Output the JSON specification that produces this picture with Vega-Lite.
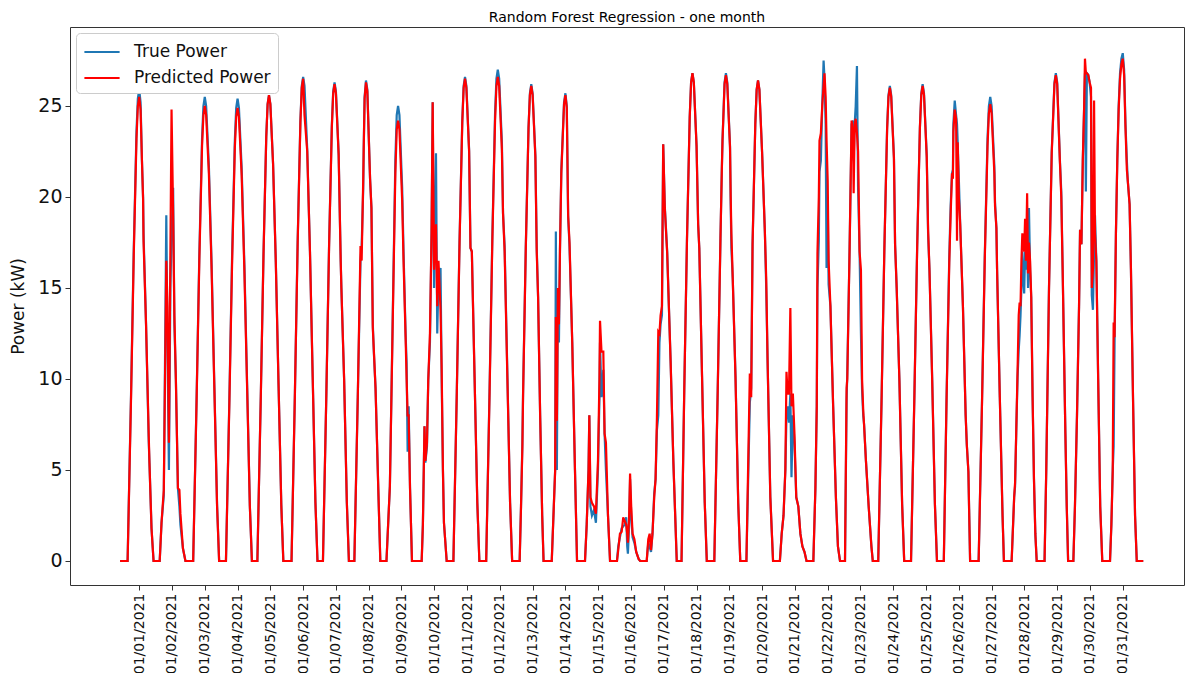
{
"$schema":"https://vega.github.io/schema/vega-lite/v6.json",
"width":1114,"height":558,
"autosize":{"type":"none"},
"padding":{"left":70,"top":27,"right":6,"bottom":88},
"background":"white",
"title":{"text":"Random Forest Regression - one month","fontSize":14,"fontWeight":"normal","font":"DejaVu Sans","color":"#000","offset":2},
"config":{"view":{"stroke":"#333","strokeWidth":1},"font":"DejaVu Sans"},
"data":{"values":[
{"t":"2021-01-01T00:00","a":0,"p":0},{"t":"2021-01-01T05:30","a":0,"p":0},{"t":"2021-01-01T08:00","a":9.1,"p":8.9},{"t":"2021-01-01T10:00","a":17.1,"p":16.8},{"t":"2021-01-01T12:00","a":23.6,"p":23.2},{"t":"2021-01-01T13:00","a":25.4,"p":25.0},{"t":"2021-01-01T14:00","a":25.9,"p":25.5},{"t":"2021-01-01T15:00","a":25.2,"p":24.8},{"t":"2021-01-01T16:00","a":22.0,"p":22.0},{"t":"2021-01-01T16:50","a":20.0,"p":19.9},{"t":"2021-01-01T17:10","a":18.0,"p":17.6},{"t":"2021-01-01T19:00","a":13.0,"p":13.0},{"t":"2021-01-01T21:00","a":6.5,"p":6.8},{"t":"2021-01-01T21:30","a":5.4,"p":5.4},{"t":"2021-01-01T23:00","a":1.8,"p":1.8},{"t":"2021-01-02T00:30","a":0,"p":0},
{"t":"2021-01-02T05:00","a":0,"p":0},{"t":"2021-01-02T06:20","a":2.1,"p":2.1},{"t":"2021-01-02T08:00","a":3.6,"p":3.9},{"t":"2021-01-02T09:50","a":19.0,"p":16.5},{"t":"2021-01-02T10:40","a":12.0,"p":14.0},{"t":"2021-01-02T11:45","a":5.0,"p":6.5},{"t":"2021-01-02T12:50","a":15.0,"p":17.0},{"t":"2021-01-02T13:40","a":18.0,"p":24.8},{"t":"2021-01-02T14:50","a":20.5,"p":19.0},{"t":"2021-01-02T15:45","a":13.0,"p":13.5},{"t":"2021-01-02T16:50","a":10.0,"p":10.0},{"t":"2021-01-02T18:20","a":4.0,"p":4.0},{"t":"2021-01-02T19:25","a":3.0,"p":3.9},{"t":"2021-01-02T20:10","a":2.0,"p":2.6},{"t":"2021-01-02T22:00","a":0.7,"p":0.7},{"t":"2021-01-02T23:50","a":0,"p":0},
{"t":"2021-01-03T05:30","a":0,"p":0},{"t":"2021-01-03T08:00","a":8.9,"p":8.8},{"t":"2021-01-03T10:00","a":16.8,"p":16.5},{"t":"2021-01-03T12:00","a":23.2,"p":22.8},{"t":"2021-01-03T13:00","a":25.0,"p":24.5},{"t":"2021-01-03T14:00","a":25.5,"p":25.0},{"t":"2021-01-03T15:00","a":25.0,"p":24.5},{"t":"2021-01-03T17:00","a":21.7,"p":21.3},{"t":"2021-01-03T19:00","a":16.3,"p":16.0},{"t":"2021-01-03T21:00","a":9.7,"p":9.5},{"t":"2021-01-03T23:00","a":3.1,"p":3.0},{"t":"2021-01-04T00:30","a":0,"p":0},
{"t":"2021-01-04T05:30","a":0,"p":0},{"t":"2021-01-04T08:00","a":8.9,"p":8.7},{"t":"2021-01-04T10:00","a":16.8,"p":16.4},{"t":"2021-01-04T12:00","a":23.1,"p":22.7},{"t":"2021-01-04T13:00","a":24.9,"p":24.4},{"t":"2021-01-04T14:00","a":25.4,"p":24.9},{"t":"2021-01-04T15:00","a":24.9,"p":24.4},{"t":"2021-01-04T17:00","a":21.6,"p":21.2},{"t":"2021-01-04T19:00","a":16.3,"p":15.9},{"t":"2021-01-04T21:00","a":9.7,"p":9.5},{"t":"2021-01-04T23:00","a":3.0,"p":3.0},{"t":"2021-01-05T00:30","a":0,"p":0},
{"t":"2021-01-05T04:30","a":0,"p":0},{"t":"2021-01-05T07:00","a":9.0,"p":9.0},{"t":"2021-01-05T09:00","a":16.9,"p":16.9},{"t":"2021-01-05T11:00","a":23.3,"p":23.3},{"t":"2021-01-05T12:00","a":25.1,"p":25.1},{"t":"2021-01-05T13:00","a":25.6,"p":25.6},{"t":"2021-01-05T14:00","a":25.1,"p":25.1},{"t":"2021-01-05T16:00","a":21.8,"p":21.8},{"t":"2021-01-05T18:00","a":16.4,"p":16.4},{"t":"2021-01-05T20:00","a":9.7,"p":9.7},{"t":"2021-01-05T22:00","a":3.1,"p":3.1},{"t":"2021-01-05T23:30","a":0,"p":0},
{"t":"2021-01-06T05:30","a":0,"p":0},{"t":"2021-01-06T08:00","a":9.3,"p":9.3},{"t":"2021-01-06T10:00","a":17.6,"p":17.5},{"t":"2021-01-06T12:00","a":24.2,"p":24.1},{"t":"2021-01-06T13:00","a":26.1,"p":26.0},{"t":"2021-01-06T14:00","a":26.6,"p":26.5},{"t":"2021-01-06T15:00","a":26.1,"p":24.5},{"t":"2021-01-06T17:00","a":22.6,"p":22.5},{"t":"2021-01-06T19:00","a":17.0,"p":17.0},{"t":"2021-01-06T21:00","a":10.1,"p":10.1},{"t":"2021-01-06T23:00","a":3.2,"p":3.2},{"t":"2021-01-07T00:30","a":0,"p":0},
{"t":"2021-01-07T04:30","a":0,"p":0},{"t":"2021-01-07T07:00","a":9.2,"p":9.2},{"t":"2021-01-07T09:00","a":17.4,"p":17.3},{"t":"2021-01-07T11:00","a":23.9,"p":23.8},{"t":"2021-01-07T12:00","a":25.8,"p":25.7},{"t":"2021-01-07T13:00","a":26.3,"p":26.2},{"t":"2021-01-07T14:00","a":25.8,"p":25.7},{"t":"2021-01-07T16:00","a":22.4,"p":22.3},{"t":"2021-01-07T17:30","a":16.5,"p":16.5},{"t":"2021-01-07T18:00","a":15.0,"p":15.0},{"t":"2021-01-07T20:00","a":10.0,"p":10.0},{"t":"2021-01-07T22:00","a":3.2,"p":3.2},{"t":"2021-01-07T23:30","a":0,"p":0},
{"t":"2021-01-08T03:30","a":0,"p":0},{"t":"2021-01-08T06:00","a":9.0,"p":9.0},{"t":"2021-01-08T08:00","a":16.5,"p":17.3},{"t":"2021-01-08T08:50","a":17.3,"p":16.5},{"t":"2021-01-08T10:00","a":20.5,"p":21.0},{"t":"2021-01-08T10:20","a":22.6,"p":22.6},{"t":"2021-01-08T11:00","a":25.5,"p":25.4},{"t":"2021-01-08T12:00","a":26.4,"p":26.3},{"t":"2021-01-08T13:00","a":25.9,"p":25.8},{"t":"2021-01-08T15:00","a":21.0,"p":21.0},{"t":"2021-01-08T16:00","a":19.4,"p":19.4},{"t":"2021-01-08T17:00","a":13.0,"p":12.8},{"t":"2021-01-08T17:45","a":11.5,"p":11.6},{"t":"2021-01-08T19:00","a":9.5,"p":9.5},{"t":"2021-01-08T21:00","a":4.0,"p":4.0},{"t":"2021-01-08T22:30","a":0,"p":0},
{"t":"2021-01-09T03:00","a":0,"p":0},{"t":"2021-01-09T05:30","a":4.1,"p":4.1},{"t":"2021-01-09T07:30","a":13.0,"p":12.8},{"t":"2021-01-09T09:30","a":22.0,"p":21.3},{"t":"2021-01-09T10:30","a":24.5,"p":23.7},{"t":"2021-01-09T11:30","a":25.0,"p":24.2},{"t":"2021-01-09T12:30","a":24.5,"p":23.7},{"t":"2021-01-09T14:30","a":20.5,"p":19.8},{"t":"2021-01-09T15:30","a":17.0,"p":16.5},{"t":"2021-01-09T17:00","a":12.5,"p":12.3},{"t":"2021-01-09T17:45","a":10.9,"p":10.0},{"t":"2021-01-09T18:30","a":6.0,"p":8.0},{"t":"2021-01-09T19:15","a":8.5,"p":8.0},{"t":"2021-01-09T20:15","a":4.0,"p":4.0},{"t":"2021-01-09T21:40","a":0,"p":0},
{"t":"2021-01-10T04:47","a":0,"p":0},{"t":"2021-01-10T05:40","a":2.0,"p":2.0},{"t":"2021-01-10T06:50","a":7.4,"p":7.4},{"t":"2021-01-10T07:30","a":5.4,"p":5.5},{"t":"2021-01-10T08:40","a":6.3,"p":6.5},{"t":"2021-01-10T09:35","a":9.9,"p":9.9},{"t":"2021-01-10T10:50","a":12.0,"p":12.5},{"t":"2021-01-10T12:00","a":18.0,"p":18.0},{"t":"2021-01-10T12:50","a":25.2,"p":25.2},{"t":"2021-01-10T13:50","a":15.0,"p":16.0},{"t":"2021-01-10T15:15","a":22.4,"p":18.5},{"t":"2021-01-10T16:10","a":12.5,"p":14.0},{"t":"2021-01-10T17:05","a":15.5,"p":16.5},{"t":"2021-01-10T18:35","a":16.1,"p":13.8},{"t":"2021-01-10T19:25","a":10.0,"p":10.5},{"t":"2021-01-10T20:20","a":5.0,"p":5.0},{"t":"2021-01-10T21:05","a":2.1,"p":2.1},{"t":"2021-01-10T23:05","a":0,"p":0},
{"t":"2021-01-11T04:00","a":0,"p":0},{"t":"2021-01-11T06:30","a":9.3,"p":9.3},{"t":"2021-01-11T08:30","a":17.6,"p":17.5},{"t":"2021-01-11T10:30","a":24.2,"p":24.1},{"t":"2021-01-11T11:30","a":26.1,"p":26.0},{"t":"2021-01-11T12:30","a":26.6,"p":26.5},{"t":"2021-01-11T13:30","a":26.1,"p":26.0},{"t":"2021-01-11T15:30","a":22.6,"p":22.5},{"t":"2021-01-11T16:30","a":17.2,"p":17.2},{"t":"2021-01-11T17:30","a":17.0,"p":17.0},{"t":"2021-01-11T19:30","a":10.1,"p":10.1},{"t":"2021-01-11T21:30","a":3.2,"p":3.2},{"t":"2021-01-11T23:00","a":0,"p":0},
{"t":"2021-01-12T04:00","a":0,"p":0},{"t":"2021-01-12T06:30","a":9.5,"p":9.3},{"t":"2021-01-12T08:30","a":17.8,"p":17.6},{"t":"2021-01-12T10:30","a":24.6,"p":24.2},{"t":"2021-01-12T11:30","a":26.5,"p":26.1},{"t":"2021-01-12T12:30","a":27.0,"p":26.6},{"t":"2021-01-12T13:30","a":26.5,"p":26.1},{"t":"2021-01-12T15:30","a":23.0,"p":22.6},{"t":"2021-01-12T16:20","a":19.1,"p":19.1},{"t":"2021-01-12T17:30","a":17.3,"p":17.0},{"t":"2021-01-12T19:30","a":10.3,"p":10.1},{"t":"2021-01-12T21:30","a":3.2,"p":3.2},{"t":"2021-01-12T23:00","a":0,"p":0},
{"t":"2021-01-13T04:30","a":0,"p":0},{"t":"2021-01-13T05:30","a":3.0,"p":3.0},{"t":"2021-01-13T06:30","a":6.5,"p":6.3},{"t":"2021-01-13T07:00","a":9.2,"p":9.1},{"t":"2021-01-13T09:00","a":17.3,"p":17.2},{"t":"2021-01-13T11:00","a":23.8,"p":23.8},{"t":"2021-01-13T12:00","a":25.7,"p":25.6},{"t":"2021-01-13T13:00","a":26.2,"p":26.1},{"t":"2021-01-13T14:00","a":25.7,"p":25.6},{"t":"2021-01-13T16:00","a":22.3,"p":22.2},{"t":"2021-01-13T17:00","a":17.2,"p":17.0},{"t":"2021-01-13T18:00","a":14.5,"p":14.5},{"t":"2021-01-13T19:30","a":8.0,"p":8.0},{"t":"2021-01-13T21:00","a":2.5,"p":2.5},{"t":"2021-01-13T22:00","a":0,"p":0},
{"t":"2021-01-14T04:00","a":0,"p":0},{"t":"2021-01-14T05:30","a":3.0,"p":3.0},{"t":"2021-01-14T06:30","a":5.0,"p":5.0},{"t":"2021-01-14T07:00","a":18.1,"p":13.4},{"t":"2021-01-14T07:45","a":5.0,"p":7.7},{"t":"2021-01-14T08:30","a":15.0,"p":15.0},{"t":"2021-01-14T09:15","a":12.0,"p":13.0},{"t":"2021-01-14T10:00","a":17.0,"p":17.0},{"t":"2021-01-14T11:00","a":21.5,"p":21.3},{"t":"2021-01-14T13:00","a":25.2,"p":25.1},{"t":"2021-01-14T14:00","a":25.7,"p":25.6},{"t":"2021-01-14T15:00","a":25.0,"p":24.9},{"t":"2021-01-14T16:00","a":18.9,"p":19.0},{"t":"2021-01-14T17:00","a":17.3,"p":17.5},{"t":"2021-01-14T19:00","a":12.0,"p":12.0},{"t":"2021-01-14T21:00","a":5.0,"p":5.0},{"t":"2021-01-14T22:30","a":0,"p":0},
{"t":"2021-01-15T04:20","a":0,"p":0},{"t":"2021-01-15T05:35","a":2.0,"p":2.0},{"t":"2021-01-15T06:55","a":5.0,"p":5.0},{"t":"2021-01-15T07:30","a":8.0,"p":8.0},{"t":"2021-01-15T08:20","a":3.0,"p":3.5},{"t":"2021-01-15T09:25","a":2.5,"p":3.2},{"t":"2021-01-15T10:55","a":2.8,"p":3.0},{"t":"2021-01-15T12:20","a":2.1,"p":2.6},{"t":"2021-01-15T13:50","a":5.0,"p":5.5},{"t":"2021-01-15T14:55","a":9.0,"p":10.0},{"t":"2021-01-15T15:20","a":12.0,"p":13.2},{"t":"2021-01-15T16:25","a":9.0,"p":11.5},{"t":"2021-01-15T17:45","a":10.5,"p":11.5},{"t":"2021-01-15T18:40","a":7.0,"p":7.0},{"t":"2021-01-15T19:40","a":5.0,"p":6.5},{"t":"2021-01-15T21:10","a":2.5,"p":2.5},{"t":"2021-01-15T22:40","a":0,"p":0},
{"t":"2021-01-16T03:45","a":0,"p":0},{"t":"2021-01-16T04:40","a":0.8,"p":0.6},{"t":"2021-01-16T05:55","a":1.3,"p":1.5},{"t":"2021-01-16T07:10","a":1.8,"p":1.6},{"t":"2021-01-16T08:20","a":1.9,"p":2.4},{"t":"2021-01-16T09:25","a":2.0,"p":2.2},{"t":"2021-01-16T10:30","a":2.4,"p":2.0},{"t":"2021-01-16T11:15","a":0.8,"p":1.5},{"t":"2021-01-16T11:45","a":0.4,"p":1.0},{"t":"2021-01-16T12:40","a":2.0,"p":2.5},{"t":"2021-01-16T13:20","a":4.5,"p":4.8},{"t":"2021-01-16T14:10","a":2.5,"p":3.0},{"t":"2021-01-16T15:10","a":1.3,"p":1.5},{"t":"2021-01-16T16:30","a":1.0,"p":1.2},{"t":"2021-01-16T17:50","a":0.5,"p":0.5},{"t":"2021-01-16T19:40","a":0.1,"p":0.1},{"t":"2021-01-16T20:45","a":0,"p":0},
{"t":"2021-01-17T01:30","a":0,"p":0},{"t":"2021-01-17T02:40","a":1.0,"p":1.2},{"t":"2021-01-17T03:40","a":0.8,"p":1.5},{"t":"2021-01-17T04:40","a":0.5,"p":0.6},{"t":"2021-01-17T05:45","a":1.5,"p":1.5},{"t":"2021-01-17T07:00","a":3.7,"p":3.5},{"t":"2021-01-17T08:00","a":4.5,"p":4.5},{"t":"2021-01-17T09:00","a":7.2,"p":7.9},{"t":"2021-01-17T10:00","a":8.0,"p":12.6},{"t":"2021-01-17T10:50","a":12.0,"p":12.5},{"t":"2021-01-17T11:40","a":13.0,"p":13.5},{"t":"2021-01-17T12:40","a":13.5,"p":14.0},{"t":"2021-01-17T13:35","a":22.9,"p":22.9},{"t":"2021-01-17T14:45","a":19.5,"p":19.4},{"t":"2021-01-17T16:30","a":17.0,"p":16.9},{"t":"2021-01-17T19:00","a":11.0,"p":11.0},{"t":"2021-01-17T21:00","a":5.5,"p":5.5},{"t":"2021-01-17T23:30","a":0,"p":0},
{"t":"2021-01-18T03:00","a":0,"p":0},{"t":"2021-01-18T05:00","a":9.4,"p":9.4},{"t":"2021-01-18T07:00","a":17.7,"p":17.7},{"t":"2021-01-18T09:00","a":24.4,"p":24.4},{"t":"2021-01-18T10:00","a":26.3,"p":26.3},{"t":"2021-01-18T11:00","a":26.8,"p":26.8},{"t":"2021-01-18T12:00","a":26.3,"p":26.3},{"t":"2021-01-18T14:00","a":22.8,"p":22.8},{"t":"2021-01-18T15:10","a":18.5,"p":18.5},{"t":"2021-01-18T16:00","a":17.2,"p":17.2},{"t":"2021-01-18T18:00","a":10.2,"p":10.2},{"t":"2021-01-18T20:00","a":3.2,"p":3.2},{"t":"2021-01-18T21:30","a":0,"p":0},
{"t":"2021-01-19T03:00","a":0,"p":0},{"t":"2021-01-19T05:30","a":9.4,"p":9.4},{"t":"2021-01-19T07:30","a":17.7,"p":17.7},{"t":"2021-01-19T08:30","a":21.5,"p":21.5},{"t":"2021-01-19T09:00","a":23.1,"p":23.1},{"t":"2021-01-19T10:30","a":26.3,"p":26.2},{"t":"2021-01-19T11:30","a":26.8,"p":26.7},{"t":"2021-01-19T12:30","a":26.3,"p":26.2},{"t":"2021-01-19T14:30","a":22.8,"p":22.7},{"t":"2021-01-19T15:00","a":19.6,"p":20.0},{"t":"2021-01-19T15:30","a":17.2,"p":18.0},{"t":"2021-01-19T16:30","a":15.5,"p":15.5},{"t":"2021-01-19T18:30","a":10.2,"p":10.1},{"t":"2021-01-19T20:30","a":3.2,"p":3.2},{"t":"2021-01-19T22:00","a":0,"p":0},
{"t":"2021-01-20T02:30","a":0,"p":0},{"t":"2021-01-20T05:00","a":8.7,"p":10.3},{"t":"2021-01-20T06:00","a":9.5,"p":9.0},{"t":"2021-01-20T07:00","a":17.4,"p":17.4},{"t":"2021-01-20T09:00","a":24.0,"p":24.0},{"t":"2021-01-20T10:00","a":25.9,"p":25.9},{"t":"2021-01-20T11:00","a":26.4,"p":26.4},{"t":"2021-01-20T12:00","a":25.9,"p":25.9},{"t":"2021-01-20T14:00","a":22.4,"p":22.4},{"t":"2021-01-20T16:00","a":18.1,"p":18.1},{"t":"2021-01-20T17:00","a":15.0,"p":15.5},{"t":"2021-01-20T18:00","a":11.0,"p":11.0},{"t":"2021-01-20T20:00","a":3.5,"p":3.5},{"t":"2021-01-20T22:00","a":0,"p":0},
{"t":"2021-01-21T03:00","a":0,"p":0},{"t":"2021-01-21T04:20","a":1.5,"p":1.5},{"t":"2021-01-21T05:40","a":2.5,"p":2.5},{"t":"2021-01-21T07:00","a":5.0,"p":5.0},{"t":"2021-01-21T07:50","a":8.0,"p":10.4},{"t":"2021-01-21T08:40","a":8.5,"p":9.2},{"t":"2021-01-21T09:40","a":7.6,"p":9.2},{"t":"2021-01-21T10:40","a":9.2,"p":13.9},{"t":"2021-01-21T11:30","a":4.6,"p":8.5},{"t":"2021-01-21T12:30","a":8.0,"p":9.2},{"t":"2021-01-21T13:40","a":6.5,"p":7.0},{"t":"2021-01-21T15:00","a":3.5,"p":3.5},{"t":"2021-01-21T16:30","a":3.0,"p":3.0},{"t":"2021-01-21T18:00","a":1.5,"p":1.5},{"t":"2021-01-21T19:30","a":0.8,"p":0.8},{"t":"2021-01-21T21:00","a":0.5,"p":0.5},{"t":"2021-01-21T22:30","a":0,"p":0},
{"t":"2021-01-22T03:30","a":0,"p":0},{"t":"2021-01-22T05:00","a":4.0,"p":4.0},{"t":"2021-01-22T06:00","a":8.5,"p":8.5},{"t":"2021-01-22T06:30","a":15.0,"p":16.9},{"t":"2021-01-22T07:30","a":17.6,"p":20.0},{"t":"2021-01-22T08:00","a":21.4,"p":23.1},{"t":"2021-01-22T09:00","a":22.0,"p":23.5},{"t":"2021-01-22T10:00","a":25.0,"p":25.0},{"t":"2021-01-22T11:00","a":27.5,"p":26.1},{"t":"2021-01-22T11:40","a":26.5,"p":26.8},{"t":"2021-01-22T12:30","a":24.0,"p":25.5},{"t":"2021-01-22T13:10","a":16.1,"p":23.1},{"t":"2021-01-22T14:00","a":20.0,"p":20.9},{"t":"2021-01-22T14:40","a":15.2,"p":16.5},{"t":"2021-01-22T16:00","a":14.0,"p":14.0},{"t":"2021-01-22T18:00","a":8.5,"p":8.5},{"t":"2021-01-22T20:00","a":3.5,"p":3.5},{"t":"2021-01-22T21:30","a":0.8,"p":0.8},{"t":"2021-01-22T23:00","a":0,"p":0},
{"t":"2021-01-23T02:40","a":0,"p":0},{"t":"2021-01-23T03:50","a":8.8,"p":9.5},{"t":"2021-01-23T04:20","a":10.3,"p":10.0},{"t":"2021-01-23T06:00","a":17.0,"p":17.0},{"t":"2021-01-23T07:30","a":24.0,"p":24.2},{"t":"2021-01-23T08:30","a":24.2,"p":23.5},{"t":"2021-01-23T09:00","a":22.0,"p":20.2},{"t":"2021-01-23T09:45","a":24.0,"p":24.0},{"t":"2021-01-23T10:30","a":25.0,"p":24.3},{"t":"2021-01-23T11:25","a":27.2,"p":23.5},{"t":"2021-01-23T12:15","a":20.5,"p":22.5},{"t":"2021-01-23T13:20","a":17.0,"p":17.0},{"t":"2021-01-23T14:20","a":12.5,"p":16.0},{"t":"2021-01-23T15:10","a":9.4,"p":10.0},{"t":"2021-01-23T16:00","a":8.0,"p":8.3},{"t":"2021-01-23T16:40","a":7.5,"p":7.4},{"t":"2021-01-23T18:00","a":5.5,"p":5.5},{"t":"2021-01-23T20:00","a":3.0,"p":3.0},{"t":"2021-01-23T22:00","a":0.8,"p":0.8},{"t":"2021-01-23T23:00","a":0,"p":0},
{"t":"2021-01-24T03:00","a":0,"p":0},{"t":"2021-01-24T05:30","a":9.1,"p":9.1},{"t":"2021-01-24T07:30","a":17.2,"p":17.2},{"t":"2021-01-24T09:30","a":23.8,"p":23.7},{"t":"2021-01-24T10:30","a":25.6,"p":25.5},{"t":"2021-01-24T11:30","a":26.1,"p":26.0},{"t":"2021-01-24T12:30","a":25.6,"p":25.5},{"t":"2021-01-24T14:30","a":22.2,"p":22.1},{"t":"2021-01-24T15:20","a":17.4,"p":17.4},{"t":"2021-01-24T16:30","a":15.0,"p":15.0},{"t":"2021-01-24T18:30","a":9.9,"p":9.9},{"t":"2021-01-24T20:30","a":3.1,"p":3.1},{"t":"2021-01-24T22:00","a":0,"p":0},
{"t":"2021-01-25T03:00","a":0,"p":0},{"t":"2021-01-25T05:30","a":9.2,"p":9.2},{"t":"2021-01-25T07:30","a":17.3,"p":17.2},{"t":"2021-01-25T09:30","a":23.8,"p":23.8},{"t":"2021-01-25T10:30","a":25.7,"p":25.6},{"t":"2021-01-25T11:30","a":26.2,"p":26.1},{"t":"2021-01-25T12:30","a":25.7,"p":25.6},{"t":"2021-01-25T14:30","a":22.3,"p":22.2},{"t":"2021-01-25T15:30","a":18.0,"p":18.2},{"t":"2021-01-25T16:30","a":16.0,"p":16.0},{"t":"2021-01-25T18:30","a":10.0,"p":9.9},{"t":"2021-01-25T20:30","a":3.1,"p":3.1},{"t":"2021-01-25T22:00","a":0,"p":0},
{"t":"2021-01-26T03:00","a":0,"p":0},{"t":"2021-01-26T05:00","a":8.9,"p":8.8},{"t":"2021-01-26T07:00","a":16.7,"p":16.4},{"t":"2021-01-26T08:00","a":19.5,"p":19.0},{"t":"2021-01-26T09:00","a":21.3,"p":21.3},{"t":"2021-01-26T09:40","a":21.5,"p":21.0},{"t":"2021-01-26T10:00","a":24.0,"p":23.6},{"t":"2021-01-26T11:00","a":25.3,"p":24.8},{"t":"2021-01-26T12:00","a":24.5,"p":24.3},{"t":"2021-01-26T12:40","a":24.0,"p":17.6},{"t":"2021-01-26T13:10","a":23.0,"p":23.0},{"t":"2021-01-26T14:00","a":21.0,"p":20.0},{"t":"2021-01-26T15:00","a":18.5,"p":18.5},{"t":"2021-01-26T17:00","a":14.0,"p":14.0},{"t":"2021-01-26T19:00","a":8.0,"p":8.0},{"t":"2021-01-26T19:50","a":6.4,"p":6.4},{"t":"2021-01-26T21:00","a":4.9,"p":4.9},{"t":"2021-01-26T22:15","a":0,"p":0},
{"t":"2021-01-27T04:30","a":0,"p":0},{"t":"2021-01-27T07:00","a":8.9,"p":8.8},{"t":"2021-01-27T09:00","a":16.8,"p":16.6},{"t":"2021-01-27T11:00","a":23.2,"p":22.8},{"t":"2021-01-27T12:00","a":25.0,"p":24.6},{"t":"2021-01-27T13:00","a":25.5,"p":25.1},{"t":"2021-01-27T14:00","a":25.0,"p":24.6},{"t":"2021-01-27T16:00","a":21.7,"p":21.3},{"t":"2021-01-27T16:30","a":19.7,"p":19.5},{"t":"2021-01-27T17:30","a":18.3,"p":18.3},{"t":"2021-01-27T18:00","a":16.0,"p":16.0},{"t":"2021-01-27T20:00","a":9.0,"p":9.0},{"t":"2021-01-27T22:00","a":2.5,"p":2.5},{"t":"2021-01-27T23:00","a":0,"p":0},
{"t":"2021-01-28T04:40","a":0,"p":0},{"t":"2021-01-28T06:30","a":3.5,"p":3.5},{"t":"2021-01-28T07:10","a":4.1,"p":4.3},{"t":"2021-01-28T08:00","a":7.0,"p":7.0},{"t":"2021-01-28T09:00","a":10.1,"p":10.5},{"t":"2021-01-28T09:50","a":11.6,"p":13.5},{"t":"2021-01-28T10:30","a":12.4,"p":14.2},{"t":"2021-01-28T11:10","a":13.5,"p":14.0},{"t":"2021-01-28T11:50","a":15.0,"p":16.5},{"t":"2021-01-28T12:30","a":17.0,"p":18.0},{"t":"2021-01-28T13:10","a":15.5,"p":17.5},{"t":"2021-01-28T13:50","a":14.7,"p":17.0},{"t":"2021-01-28T14:30","a":17.0,"p":18.8},{"t":"2021-01-28T15:10","a":16.0,"p":16.5},{"t":"2021-01-28T16:00","a":17.5,"p":20.2},{"t":"2021-01-28T16:40","a":15.0,"p":15.8},{"t":"2021-01-28T17:20","a":19.4,"p":17.5},{"t":"2021-01-28T18:10","a":16.0,"p":16.5},{"t":"2021-01-28T19:00","a":14.5,"p":14.5},{"t":"2021-01-28T20:00","a":9.0,"p":9.0},{"t":"2021-01-28T21:00","a":4.5,"p":4.5},{"t":"2021-01-28T22:00","a":1.5,"p":1.5},{"t":"2021-01-28T23:00","a":0,"p":0},
{"t":"2021-01-29T04:45","a":0,"p":0},{"t":"2021-01-29T06:00","a":5.0,"p":5.0},{"t":"2021-01-29T08:00","a":15.0,"p":14.9},{"t":"2021-01-29T10:00","a":22.5,"p":22.4},{"t":"2021-01-29T12:00","a":26.3,"p":26.2},{"t":"2021-01-29T13:00","a":26.8,"p":26.7},{"t":"2021-01-29T14:00","a":26.3,"p":26.2},{"t":"2021-01-29T16:00","a":22.0,"p":21.9},{"t":"2021-01-29T17:00","a":20.3,"p":20.0},{"t":"2021-01-29T18:00","a":16.0,"p":16.0},{"t":"2021-01-29T20:00","a":7.0,"p":7.0},{"t":"2021-01-29T21:00","a":3.0,"p":3.0},{"t":"2021-01-29T22:00","a":0,"p":0},
{"t":"2021-01-30T01:50","a":0,"p":0},{"t":"2021-01-30T03:00","a":3.0,"p":3.0},{"t":"2021-01-30T04:30","a":8.0,"p":8.0},{"t":"2021-01-30T06:00","a":14.0,"p":14.0},{"t":"2021-01-30T06:45","a":18.2,"p":18.2},{"t":"2021-01-30T07:45","a":17.4,"p":17.4},{"t":"2021-01-30T08:45","a":22.0,"p":22.0},{"t":"2021-01-30T09:45","a":25.0,"p":25.0},{"t":"2021-01-30T10:20","a":26.8,"p":27.6},{"t":"2021-01-30T11:00","a":20.3,"p":26.8},{"t":"2021-01-30T11:45","a":26.8,"p":26.8},{"t":"2021-01-30T12:45","a":26.7,"p":26.7},{"t":"2021-01-30T13:45","a":26.3,"p":26.3},{"t":"2021-01-30T14:45","a":25.5,"p":26.0},{"t":"2021-01-30T15:20","a":14.6,"p":15.0},{"t":"2021-01-30T16:10","a":13.8,"p":16.0},{"t":"2021-01-30T17:00","a":17.0,"p":25.3},{"t":"2021-01-30T17:40","a":19.0,"p":18.0},{"t":"2021-01-30T18:40","a":16.5,"p":16.5},{"t":"2021-01-30T20:00","a":10.0,"p":10.0},{"t":"2021-01-30T21:30","a":3.0,"p":3.0},{"t":"2021-01-30T23:00","a":0,"p":0},
{"t":"2021-01-31T04:40","a":0,"p":0},{"t":"2021-01-31T05:40","a":2.0,"p":2.0},{"t":"2021-01-31T06:40","a":5.0,"p":5.0},{"t":"2021-01-31T07:20","a":6.3,"p":13.1},{"t":"2021-01-31T08:00","a":12.0,"p":12.3},{"t":"2021-01-31T09:00","a":18.0,"p":18.0},{"t":"2021-01-31T10:00","a":22.0,"p":22.0},{"t":"2021-01-31T11:00","a":25.0,"p":24.8},{"t":"2021-01-31T12:00","a":26.8,"p":26.5},{"t":"2021-01-31T13:00","a":27.6,"p":27.3},{"t":"2021-01-31T14:00","a":27.9,"p":27.6},{"t":"2021-01-31T15:00","a":27.0,"p":26.7},{"t":"2021-01-31T16:00","a":24.0,"p":23.8},{"t":"2021-01-31T17:00","a":22.0,"p":21.5},{"t":"2021-01-31T17:40","a":20.9,"p":20.9},{"t":"2021-01-31T19:00","a":19.6,"p":19.6},{"t":"2021-01-31T20:00","a":16.0,"p":16.0},{"t":"2021-01-31T21:30","a":9.0,"p":9.0},{"t":"2021-01-31T23:00","a":2.5,"p":2.5},{"t":"2021-02-01T00:15","a":0,"p":0},{"t":"2021-02-01T05:00","a":0,"p":0}
]},
"encoding":{"x":{"field":"t","type":"temporal",
 "scale":{"domain":[{"year":2020,"month":12,"date":30,"hours":11,"minutes":20},{"year":2021,"month":2,"date":2,"hours":10,"minutes":50}]},
 "axis":{"values":[{"year":2021,"month":1,"date":1,"hours":14},{"year":2021,"month":1,"date":2,"hours":14},{"year":2021,"month":1,"date":3,"hours":14},{"year":2021,"month":1,"date":4,"hours":14},{"year":2021,"month":1,"date":5,"hours":14},{"year":2021,"month":1,"date":6,"hours":14},{"year":2021,"month":1,"date":7,"hours":14},{"year":2021,"month":1,"date":8,"hours":14},{"year":2021,"month":1,"date":9,"hours":14},{"year":2021,"month":1,"date":10,"hours":14},{"year":2021,"month":1,"date":11,"hours":14},{"year":2021,"month":1,"date":12,"hours":14},{"year":2021,"month":1,"date":13,"hours":14},{"year":2021,"month":1,"date":14,"hours":14},{"year":2021,"month":1,"date":15,"hours":14},{"year":2021,"month":1,"date":16,"hours":14},{"year":2021,"month":1,"date":17,"hours":14},{"year":2021,"month":1,"date":18,"hours":14},{"year":2021,"month":1,"date":19,"hours":14},{"year":2021,"month":1,"date":20,"hours":14},{"year":2021,"month":1,"date":21,"hours":14},{"year":2021,"month":1,"date":22,"hours":14},{"year":2021,"month":1,"date":23,"hours":14},{"year":2021,"month":1,"date":24,"hours":14},{"year":2021,"month":1,"date":25,"hours":14},{"year":2021,"month":1,"date":26,"hours":14},{"year":2021,"month":1,"date":27,"hours":14},{"year":2021,"month":1,"date":28,"hours":14},{"year":2021,"month":1,"date":29,"hours":14},{"year":2021,"month":1,"date":30,"hours":14},{"year":2021,"month":1,"date":31,"hours":14}],
  "format":"%m/%d/%Y","labelAngle":-90,"labelFontSize":14,"labelFont":"DejaVu Sans","labelColor":"#111","tickSize":5,"tickColor":"#333","domain":false,"grid":false,"title":null,"labelPadding":3,"labelOverlap":false,"labelFlush":false}}},
"layer":[
 {"mark":{"type":"line","strokeWidth":2.2,"clip":true},
  "encoding":{
   "y":{"field":"a","type":"quantitative","scale":{"domain":[-1.32,29.34],"nice":false,"zero":false},
    "axis":{"values":[0,5,10,15,20,25],"title":"Power (kW)","titleFontSize":17,"titleFontWeight":"normal","titleFont":"DejaVu Sans","titleColor":"#111","labelFontSize":19,"labelFont":"DejaVu Sans","labelColor":"#111","tickSize":5,"tickColor":"#333","domain":false,"grid":false,"titlePadding":10,"labelPadding":3}},
   "color":{"datum":"True Power","type":"nominal","scale":{"domain":["True Power","Predicted Power"],"range":["#1f77b4","#ff0000"]},
    "legend":{"title":null,"orient":"none","legendX":6,"legendY":6,"fillColor":"white","strokeColor":"#cccccc","cornerRadius":4,"padding":7,"labelFontSize":17,"labelFont":"DejaVu Sans","labelColor":"#111","symbolType":"M-1.6,0H1.6","symbolStrokeWidth":2,"symbolSize":484,"symbolOffset":7,"rowPadding":6,"labelOffset":20}}}},
 {"mark":{"type":"line","strokeWidth":2.2,"clip":true},
  "encoding":{
   "y":{"field":"p","type":"quantitative",
    "axis":{"values":[0,5,10,15,20,25],"title":"Power (kW)","titleFontSize":17,"titleFontWeight":"normal","titleFont":"DejaVu Sans","titleColor":"#111","labelFontSize":19,"labelFont":"DejaVu Sans","labelColor":"#111","tickSize":5,"tickColor":"#333","domain":false,"grid":false,"titlePadding":10,"labelPadding":3}},
   "color":{"datum":"Predicted Power","type":"nominal"}}}
]
}
